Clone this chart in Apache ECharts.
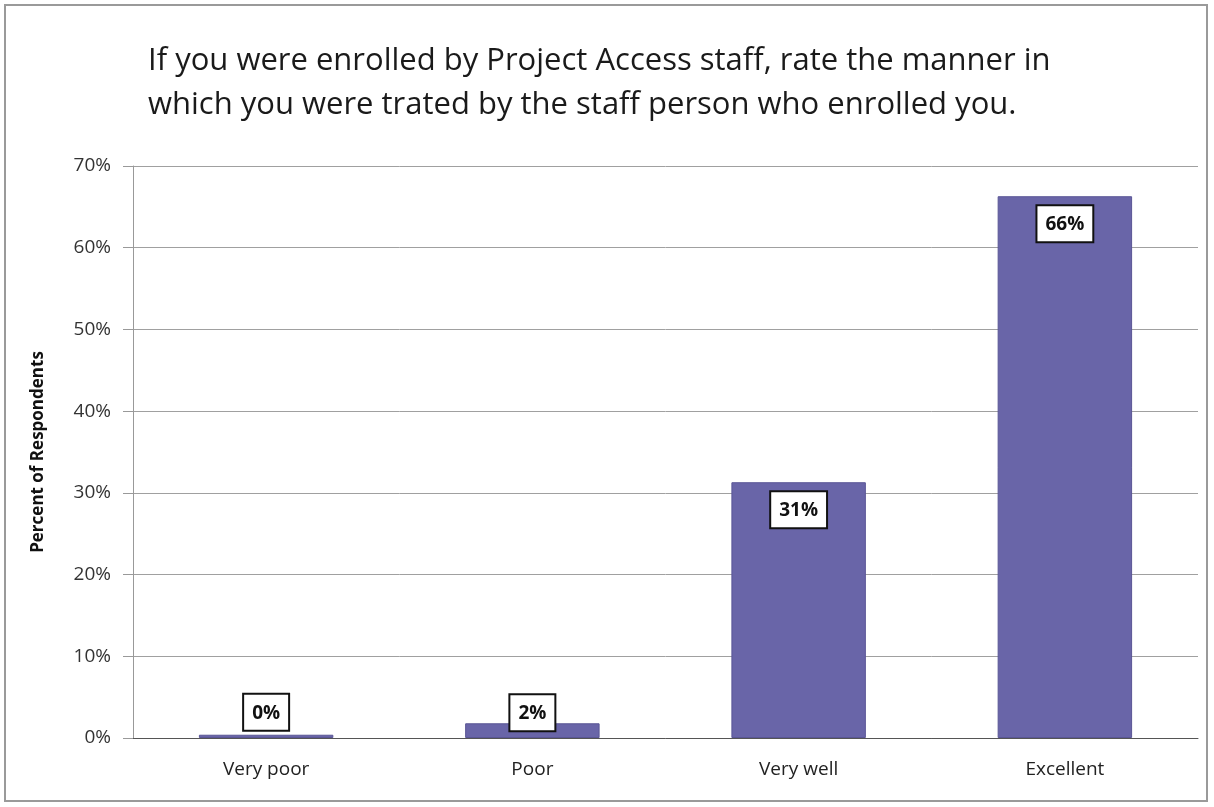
<!DOCTYPE html>
<html><head><meta charset="utf-8">
<script src="https://cdn.jsdelivr.net/npm/echarts@6/dist/echarts.min.js"></script>
<style>html,body{margin:0;padding:0;background:#fff}#c{width:1214px;height:807px}
#frame{position:absolute;left:4px;top:4px;width:1204px;height:798px;border:2px solid #9a9a9a;pointer-events:none;box-sizing:border-box}</style>
</head><body><div id="c"></div><div id="frame"></div>
<script>
const categories = ['Very poor', 'Poor', 'Very well', 'Excellent'];
const values = [0.4, 1.8, 31.3, 66.3];
const labels = ['0%', '2%', '31%', '66%'];
const yTicks = [0, 10, 20, 30, 40, 50, 60, 70];

const chart = echarts.init(document.getElementById('c'));
const font = '"Open Sans", "Liberation Sans", sans-serif';
chart.setOption({
  animation: false,
  title: {
    text: 'If you were enrolled by Project Access staff, rate the manner in\nwhich you were trated by the staff person who enrolled you.',
    left: 143, top: 34,
    textStyle: { fontFamily: font, fontSize: 31, fontWeight: 'normal', color: '#1a1a1a', lineHeight: 44 }
  },
  grid: { left: 133, right: 16, top: 166, bottom: 69 },
  xAxis: {
    type: 'category', data: categories,
    axisLine: { lineStyle: { color: '#555', width: 1 } },
    axisTick: { show: false },
    axisLabel: { fontFamily: font, fontSize: 19, color: '#222', margin: 22 }
  },
  yAxis: {
    type: 'value', min: 0, max: 70, interval: 10,
    name: 'Percent of Respondents', nameLocation: 'middle', nameGap: 86,
    nameTextStyle: { fontFamily: font, fontSize: 17, fontWeight: 'bold', color: '#111' },
    axisLine: { show: true, lineStyle: { color: '#999' } },
    axisTick: { show: true, length: 10, lineStyle: { color: '#999' } },
    axisLabel: { fontFamily: font, fontSize: 19, color: '#333', margin: 22,
      formatter: v => yTicks.includes(v) ? v + '%' : '' },
    splitLine: { lineStyle: { color: '#a0a0a0', width: 1 } }
  },
  series: [{
    type: 'bar', barWidth: '50.5%',
    data: values.map((v, i) => ({
      value: v,
      label: { position: v < 10 ? 'top' : 'insideTop', distance: v < 1 ? 5 : (v < 10 ? -7 : 10) }
    })),
    itemStyle: { color: '#6965a8', borderColor: '#5a5696', borderWidth: 1 },
    label: {
      show: true,
      formatter: p => labels[p.dataIndex],
      fontFamily: font, fontSize: 19, fontWeight: 'bold', color: '#111',
      backgroundColor: '#fff', borderColor: '#111', borderWidth: 2,
      padding: [9, 8, 7, 8]
    }
  }]
});
</script></body></html>
